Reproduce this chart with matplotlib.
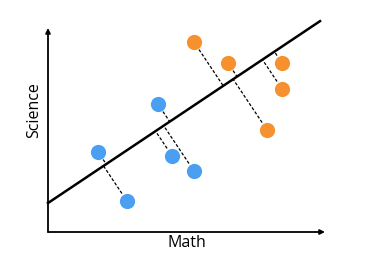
import numpy as np
import matplotlib
matplotlib.use('Agg')
import matplotlib.pyplot as plt

plt.rcParams['font.family'] = ['Open Sans', 'DejaVu Sans']

# Scores (0-100 scale on both axes)
blue_math = [18.1, 28.5, 39.7, 44.8, 52.7]
blue_science = [39.2, 15.2, 62.7, 37.3, 29.9]
orange_math = [52.7, 65.0, 84.5, 84.5, 79.1]
orange_science = [93.1, 82.8, 82.8, 70.1, 50.0]

# Regression line
line_intercept = 14.2
line_slope = 0.908
line_x_end = 98.2

blue_color = '#4b9ff0'
orange_color = '#f7912f'

fig = plt.figure(figsize=(3.67, 2.63), dpi=100)
ax = fig.add_axes([48 / 367, 31 / 263, 277 / 367, 204 / 263])
ax.set_xlim(0, 100)
ax.set_ylim(0, 100)
for s in ax.spines.values():
    s.set_visible(False)
ax.set_xticks([])
ax.set_yticks([])

# Axes with arrows
ax.annotate('', xy=(1.0, 0), xytext=(0, 0), xycoords='axes fraction',
            arrowprops=dict(arrowstyle='-|>', color='black', lw=1.3,
                            mutation_scale=7, shrinkA=0, shrinkB=0))
ax.annotate('', xy=(0, 1.0), xytext=(0, 0), xycoords='axes fraction',
            arrowprops=dict(arrowstyle='-|>', color='black', lw=1.3,
                            mutation_scale=7, shrinkA=0, shrinkB=0))

# Regression line
lx = np.array([0, line_x_end])
ly = line_intercept + line_slope * lx
ax.plot(lx, ly, color='black', lw=1.8, clip_on=False, zorder=2)

# Perpendicular residuals (computed in display space)
trans = ax.transData
inv = trans.inverted()
a = trans.transform((lx[0], ly[0]))
b = trans.transform((lx[1], ly[1]))
u = (b - a) / np.linalg.norm(b - a)
for mx, sy in zip(blue_math + orange_math, blue_science + orange_science):
    p = trans.transform((mx, sy))
    foot = a + np.dot(p - a, u) * u
    d = foot - p
    dist = np.linalg.norm(d)
    start = p + d / dist * 9
    s_data = inv.transform(start)
    f_data = inv.transform(foot)
    ax.plot([s_data[0], f_data[0]], [s_data[1], f_data[1]], color='black',
            lw=0.9, ls=(0, (2.5, 1.5)), zorder=1)

ax.scatter(blue_math, blue_science, s=120, color=blue_color, zorder=3,
           linewidths=0)
ax.scatter(orange_math, orange_science, s=120, color=orange_color, zorder=3,
           linewidths=0)

ax.set_xlabel('Math', fontsize=11.5, labelpad=2)
ax.set_ylabel('Science', fontsize=11.5)
ax.yaxis.set_label_coords(-0.02, 0.6)

fig.savefig('out.png', dpi=100)
